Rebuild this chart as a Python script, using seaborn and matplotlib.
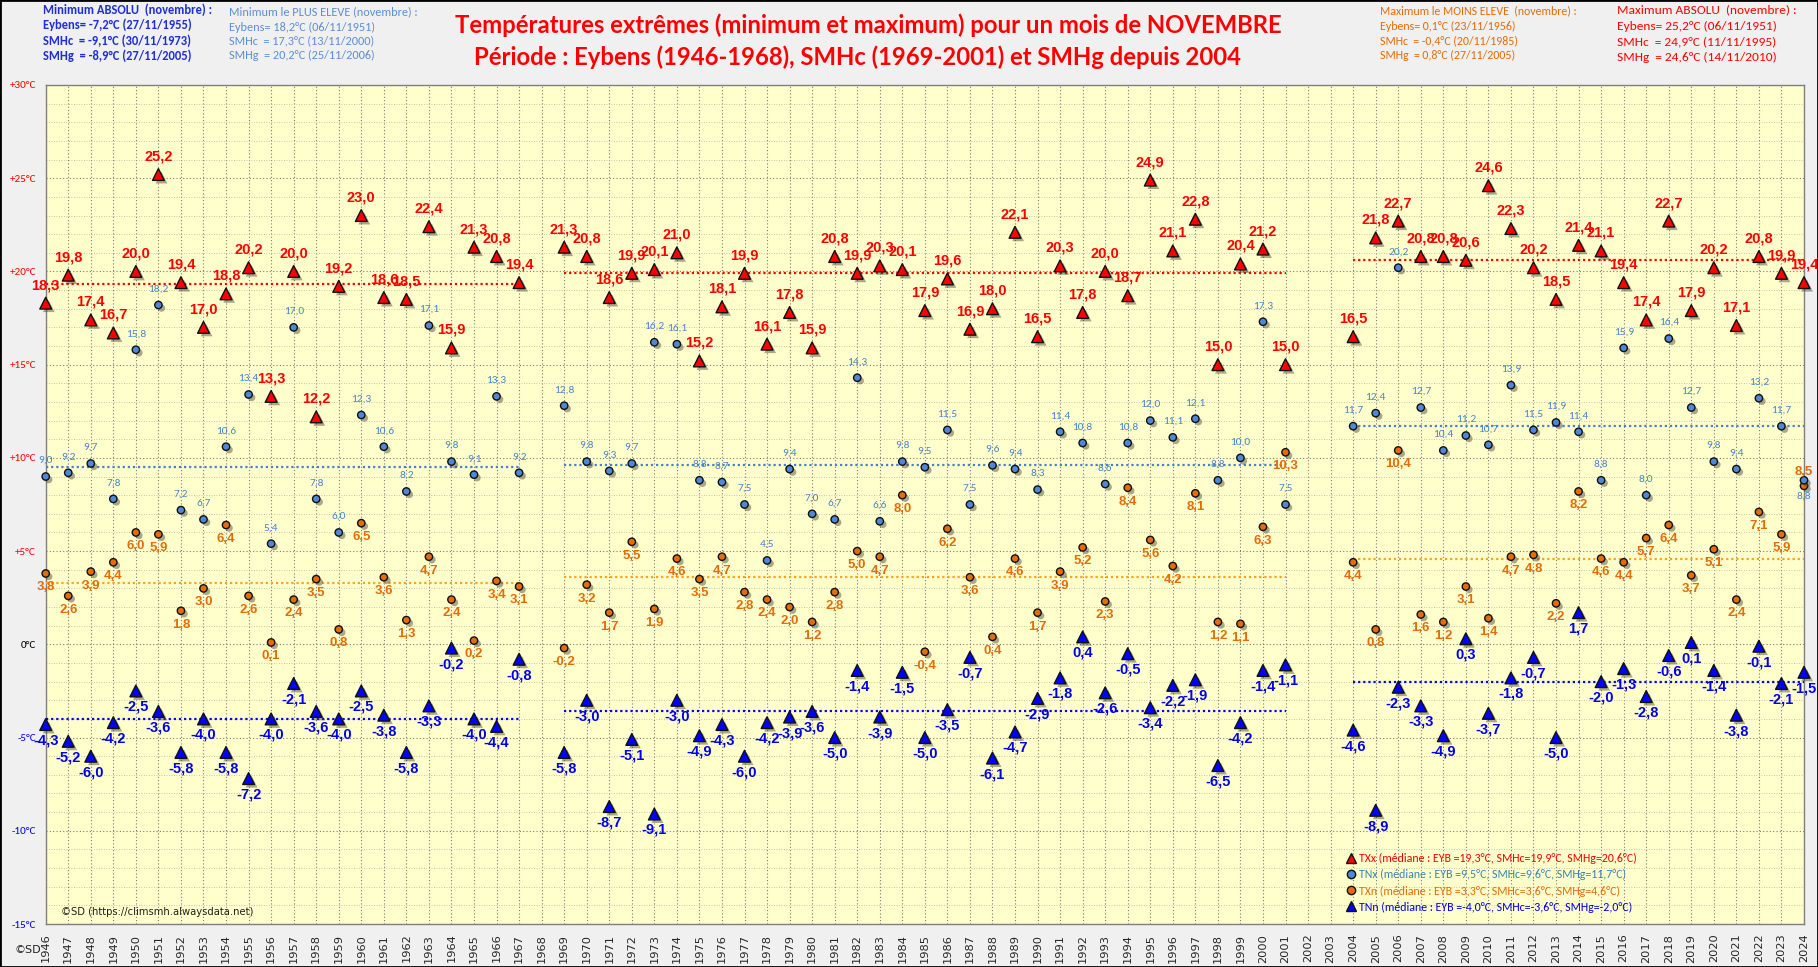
import numpy as np
import pandas as pd
import matplotlib
matplotlib.use("Agg")
import matplotlib.pyplot as plt
import matplotlib.patheffects as pe
from matplotlib.lines import Line2D
from matplotlib.patches import Rectangle
from matplotlib import font_manager as fm
import seaborn as sns

NA = np.nan
years = list(range(1946, 2025))

txx = [18.3, 19.8, 17.4, 16.7, 20.0, 25.2, 19.4, 17.0, 18.8, 20.2,
       13.3, 20.0, 12.2, 19.2, 23.0, 18.6, 18.5, 22.4, 15.9, 21.3,
       20.8, 19.4, NA, 21.3, 20.8, 18.6, 19.9, 20.1, 21.0, 15.2,
       18.1, 19.9, 16.1, 17.8, 15.9, 20.8, 19.9, 20.3, 20.1, 17.9,
       19.6, 16.9, 18.0, 22.1, 16.5, 20.3, 17.8, 20.0, 18.7, 24.9,
       21.1, 22.8, 15.0, 20.4, 21.2, 15.0, NA, NA, 16.5, 21.8,
       22.7, 20.8, 20.8, 20.6, 24.6, 22.3, 20.2, 18.5, 21.4, 21.1,
       19.4, 17.4, 22.7, 17.9, 20.2, 17.1, 20.8, 19.9, 19.4]

tnx = [9.0, 9.2, 9.7, 7.8, 15.8, 18.2, 7.2, 6.7, 10.6, 13.4,
       5.4, 17.0, 7.8, 6.0, 12.3, 10.6, 8.2, 17.1, 9.8, 9.1,
       13.3, 9.2, NA, 12.8, 9.8, 9.3, 9.7, 16.2, 16.1, 8.8,
       8.7, 7.5, 4.5, 9.4, 7.0, 6.7, 14.3, 6.6, 9.8, 9.5,
       11.5, 7.5, 9.6, 9.4, 8.3, 11.4, 10.8, 8.6, 10.8, 12.0,
       11.1, 12.1, 8.8, 10.0, 17.3, 7.5, NA, NA, 11.7, 12.4,
       20.2, 12.7, 10.4, 11.2, 10.7, 13.9, 11.5, 11.9, 11.4, 8.8,
       15.9, 8.0, 16.4, 12.7, 9.8, 9.4, 13.2, 11.7, 8.8]

txn = [3.8, 2.6, 3.9, 4.4, 6.0, 5.9, 1.8, 3.0, 6.4, 2.6,
       0.1, 2.4, 3.5, 0.8, 6.5, 3.6, 1.3, 4.7, 2.4, 0.2,
       3.4, 3.1, NA, -0.2, 3.2, 1.7, 5.5, 1.9, 4.6, 3.5,
       4.7, 2.8, 2.4, 2.0, 1.2, 2.8, 5.0, 4.7, 8.0, -0.4,
       6.2, 3.6, 0.4, 4.6, 1.7, 3.9, 5.2, 2.3, 8.4, 5.6,
       4.2, 8.1, 1.2, 1.1, 6.3, 10.3, NA, NA, 4.4, 0.8,
       10.4, 1.6, 1.2, 3.1, 1.4, 4.7, 4.8, 2.2, 8.2, 4.6,
       4.4, 5.7, 6.4, 3.7, 5.1, 2.4, 7.1, 5.9, 8.5]

tnn = [-4.3, -5.2, -6.0, -4.2, -2.5, -3.6, -5.8, -4.0, -5.8, -7.2,
       -4.0, -2.1, -3.6, -4.0, -2.5, -3.8, -5.8, -3.3, -0.2, -4.0,
       -4.4, -0.8, NA, -5.8, -3.0, -8.7, -5.1, -9.1, -3.0, -4.9,
       -4.3, -6.0, -4.2, -3.9, -3.6, -5.0, -1.4, -3.9, -1.5, -5.0,
       -3.5, -0.7, -6.1, -4.7, -2.9, -1.8, 0.4, -2.6, -0.5, -3.4,
       -2.2, -1.9, -6.5, -4.2, -1.4, -1.1, NA, NA, -4.6, -8.9,
       -2.3, -3.3, -4.9, 0.3, -3.7, -1.8, -0.7, -5.0, 1.7, -2.0,
       -1.3, -2.8, -0.6, 0.1, -1.4, -3.8, -0.1, -2.1, -1.5]

periods = [(1946, 1967), (1969, 2001), (2004, 2024)]
med_txx = [19.3, 19.9, 20.6]
med_tnx = [9.5, 9.6, 11.7]
med_txn = [3.3, 3.6, 4.6]
med_tnn = [-4.0, -3.6, -2.0]

ytick_values = [-15, -10, -5, 0, 5, 10, 15, 20, 25, 30]
ytick_labels = ["-15°C", "-10°C", "-5°C", "0°C", "+5°C", "+10°C",
                "+15°C", "+20°C", "+25°C", "+30°C"]

title1 = "Températures extrêmes (minimum et maximum) pour un mois de NOVEMBRE"
title2 = "Période : Eybens (1946-1968), SMHc (1969-2001) et SMHg depuis 2004"
block_min_abs = ["Minimum ABSOLU  (novembre) :", "Eybens= -7,2°C (27/11/1955)",
                 "SMHc  = -9,1°C (30/11/1973)", "SMHg  = -8,9°C (27/11/2005)"]
block_min_high = ["Minimum le PLUS ELEVE (novembre) :", "Eybens= 18,2°C (06/11/1951)",
                  "SMHc  = 17,3°C (13/11/2000)", "SMHg  = 20,2°C (25/11/2006)"]
block_max_low = ["Maximum le MOINS ELEVE  (novembre) :", "Eybens= 0,1°C (23/11/1956)",
                 "SMHc  = -0,4°C (20/11/1985)", "SMHg  = 0,8°C (27/11/2005)"]
block_max_abs = ["Maximum ABSOLU  (novembre) :", "Eybens= 25,2°C (06/11/1951)",
                 "SMHc  = 24,9°C (11/11/1995)", "SMHg  = 24,6°C (14/11/2010)"]
legend_labels = ["TXx (médiane : EYB =19,3°C, SMHc=19,9°C, SMHg=20,6°C)",
                 "TNx (médiane : EYB =9,5°C, SMHc=9,6°C, SMHg=11,7°C)",
                 "TXn (médiane : EYB =3,3°C, SMHc=3,6°C, SMHg=4,6°C)",
                 "TNn (médiane : EYB =-4,0°C, SMHc=-3,6°C, SMHg=-2,0°C)"]
# labels placed on the other side of their marker (crowded last year)
flipped_labels = {("TNx", 2024), ("TXn", 2024)}

sns.set_style("white")
names = {f.name for f in fm.fontManager.ttflist}
NARROW = "Liberation Sans Narrow" if "Liberation Sans Narrow" in names else "Liberation Sans"
SOFT = "Carlito" if "Carlito" in names else "Lato"
plt.rcParams["font.family"] = ["DejaVu Sans"]

W, H = 1818, 967
fig = plt.figure(figsize=(W / 100, H / 100), dpi=100, facecolor="#f0f0f0")
ax = fig.add_axes([45.7 / W, 1 - 924 / H, (1804 - 45.7) / W, (924 - 85) / H])
ax.set_facecolor("#ffffcc")

def fx(px):
    return px / W

def fy(py):
    return 1 - py / H

df = pd.DataFrame({
    "year": years * 4,
    "value": txx + tnx + txn + tnn,
    "serie": ["TXx"] * 79 + ["TNx"] * 79 + ["TXn"] * 79 + ["TNn"] * 79,
}).dropna()

# serie: marker, fill, size, label offset (pt), label colour, font, weight, fontsize
specs = {
    "TXn": ("o", "#e46c0a", 28, -10.0, "#e46c0a", NARROW, "bold", 9.5),
    "TNx": ("o", "#4f88d8", 28, 11.5, "#4a86c8", SOFT, "normal", 8.2),
    "TXx": ("^", "#ff0000", 72, 13.0, "#ff0000", NARROW, "bold", 10.5),
    "TNn": ("^", "#0000ff", 72, -11.5, "#0000ee", NARROW, "bold", 10.5),
}
shadow = [pe.SimplePatchShadow(offset=(2.2, -2.2), shadow_rgbFace=(0.25, 0.25, 0.2), alpha=0.45), pe.Normal()]
for z, (serie, (mk, col, size, off, tcol, fam, wt, fs)) in enumerate(specs.items()):
    sub = df[df["serie"] == serie]
    sns.scatterplot(data=sub, x="year", y="value", marker=mk, color=col, s=size,
                    edgecolor="#101010", linewidth=1.0, ax=ax, legend=False,
                    zorder=5 + z, clip_on=False)
    ax.collections[-1].set_path_effects(shadow)
    for yr, v in zip(sub["year"], sub["value"]):
        o = -off if (serie, yr) in flipped_labels else off
        ax.annotate(f"{v:.1f}".replace(".", ","), (yr, v), xytext=(0, o),
                    textcoords="offset points", ha="center", va="center",
                    color=tcol, family=fam, fontweight=wt, fontsize=fs,
                    zorder=10, annotation_clip=False)

med_colors = {"TXx": "#ff0000", "TNx": "#4a7fd0", "TXn": "#ffa020", "TNn": "#0000ff"}
for serie, meds in (("TXx", med_txx), ("TNx", med_tnx), ("TXn", med_txn), ("TNn", med_tnn)):
    for (a, b), m in zip(periods, meds):
        ax.hlines(m, a, b, colors=med_colors[serie], linestyles=(0, (1, 1.3)),
                  linewidth=1.6, zorder=3)

ax.set_xlim(1946, 2024)
ax.set_ylim(-15, 30)
ax.set_xlabel("")
ax.set_ylabel("")
ax.set_xticks(years)
ax.set_xticklabels([str(y) for y in years], rotation=90, fontsize=8.2, family="DejaVu Sans")
ax.set_yticks(ytick_values)
ax.set_yticklabels(ytick_labels, fontsize=8.0, family=SOFT)
ax.set_yticks(range(-15, 31), minor=True)
for lbl, v in zip(ax.get_yticklabels(), ytick_values):
    lbl.set_color("#ff0000" if v > 0 else ("#000000" if v == 0 else "#0000ff"))
ax.tick_params(axis="both", which="major", direction="out", length=4, color="#808080", pad=3)
ax.tick_params(axis="x", pad=3)
ax.tick_params(axis="y", which="minor", length=0)
ax.grid(which="major", axis="both", color="#7a7a7a", linestyle=(0, (1, 2)), linewidth=0.8)
ax.grid(which="minor", axis="y", color="#b5b5a5", linestyle=(0, (1, 2)), linewidth=0.6)
ax.set_axisbelow(True)
for s in ax.spines.values():
    s.set_color("#808080")
    s.set_linewidth(1.0)

# titles
fig.text(fx(868), fy(25), title1, ha="center", va="center", color="#ff0000",
         fontsize=17.2, fontweight="bold", family="Lato")
fig.text(fx(858), fy(57), title2, ha="center", va="center", color="#ff0000",
         fontsize=17.2, fontweight="bold", family="Lato")

def block(lines, x, ys, color, fs, wt):
    for t, yy in zip(lines, ys):
        fig.text(fx(x), fy(yy), t, ha="left", va="center", color=color,
                 fontsize=fs, fontweight=wt, family=SOFT)

block(block_min_abs, 43, [9.5, 25, 41, 56], "#1f2fd8", 9.0, "bold")
block(block_min_high, 229, [12, 27, 41, 55], "#5b8fd6", 8.8, "normal")
block(block_max_low, 1380, [11, 26, 41, 55], "#e46c0a", 8.6, "normal")
block(block_max_abs, 1617, [10, 26, 42, 57], "#ff0000", 9.6, "normal")

fig.text(fx(15), fy(950), "©SD", ha="left", va="center", fontsize=8, color="#202020")
fig.text(fx(61), fy(912), "©SD (https://climsmh.alwaysdata.net)", ha="left", va="center",
         fontsize=7.2, color="#202020")

handles = [
    Line2D([], [], linestyle="none", marker="^", markersize=7, markerfacecolor="#ff0000", markeredgecolor="#101010"),
    Line2D([], [], linestyle="none", marker="o", markersize=6, markerfacecolor="#4f88d8", markeredgecolor="#101010"),
    Line2D([], [], linestyle="none", marker="o", markersize=6, markerfacecolor="#e46c0a", markeredgecolor="#101010"),
    Line2D([], [], linestyle="none", marker="^", markersize=7, markerfacecolor="#0000ff", markeredgecolor="#101010"),
]
leg = fig.legend(handles=handles, labels=legend_labels, loc="lower left",
                 bbox_to_anchor=(fx(1338), fy(921)), frameon=False,
                 prop={"family": SOFT, "size": 8.6}, handlelength=0.8,
                 handletextpad=0.25, labelspacing=0.42, borderpad=0.2)
for txt, c in zip(leg.get_texts(), ["#ff0000", "#3a85b0", "#e46c0a", "#0000ee"]):
    txt.set_color(c)

fig.add_artist(Rectangle((0, 0), 1, 1, transform=fig.transFigure, fill=False,
                         edgecolor="black", linewidth=2))

fig.savefig("out.png", dpi=100, facecolor=fig.get_facecolor())
